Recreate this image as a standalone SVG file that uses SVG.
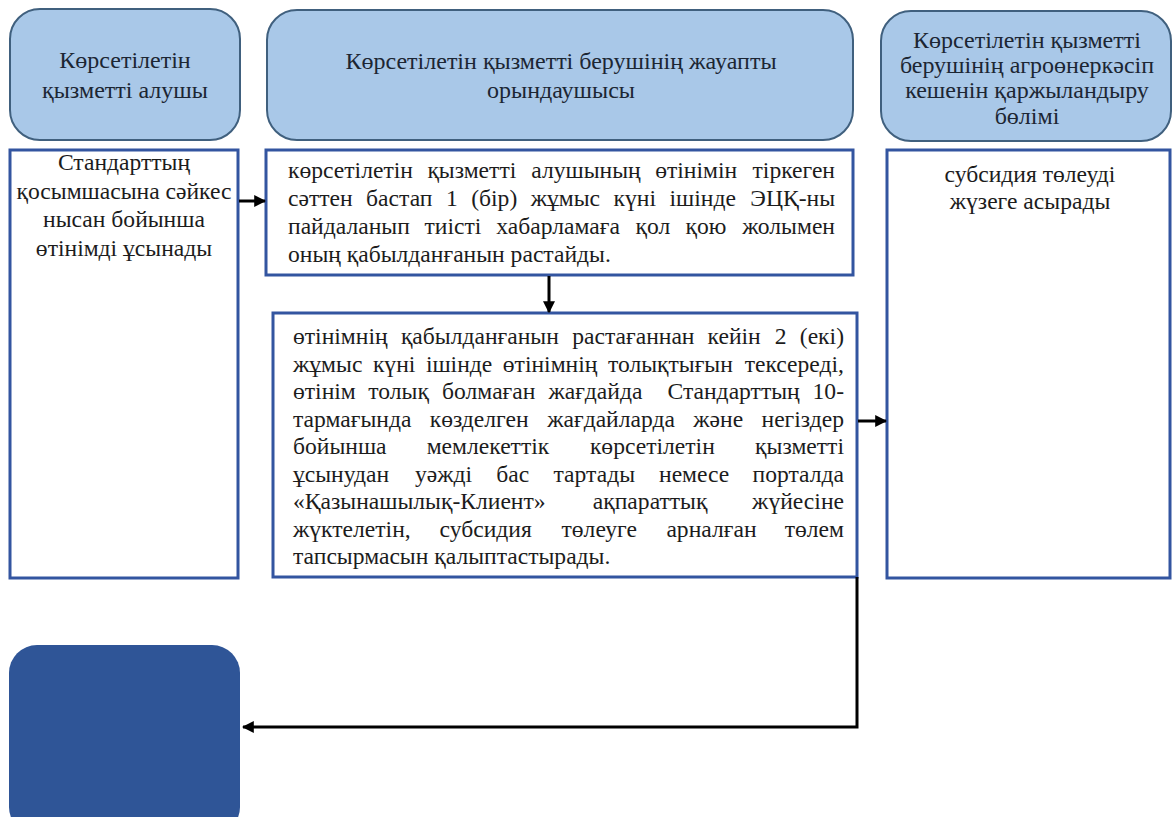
<svg xmlns="http://www.w3.org/2000/svg" width="1173" height="817" viewBox="0 0 1173 817">
<style>
.hdr{fill:#a9c8e8;stroke:#40607e;stroke-width:2}
.box{fill:#fff;stroke:#3355a0;stroke-width:3}
.t{font-family:"Liberation Serif","Times New Roman",serif;font-size:23.6px;fill:#1c1c1c}
.h{font-family:"Liberation Serif","Times New Roman",serif;font-size:24px;fill:#1c2633;text-anchor:middle}
.c{text-anchor:middle}
.e{text-anchor:end}
.ln{fill:none;stroke:#000;stroke-width:3}
</style>
<defs>
<marker id="ah" viewBox="0 0 10 10" refX="9" refY="5" markerWidth="4" markerHeight="4" orient="auto" markerUnits="strokeWidth">
<path d="M0,0 L10,5 L0,10 z" fill="#000"/>
</marker>
</defs>
<g id="lane1-header">
<rect class="hdr" x="10" y="9" width="230" height="131" rx="30"/>
<text class="h" x="125" y="68">Көрсетілетін</text>
<text class="h" x="125" y="98">қызметті алушы</text>
</g>
<g id="lane2-header">
<rect class="hdr" x="267" y="10" width="586" height="130" rx="30"/>
<text class="h" x="561" y="69">Көрсетілетін қызметті берушінің жауапты</text>
<text class="h" x="561" y="98">орындаушысы</text>
</g>
<g id="lane3-header">
<rect class="hdr" x="881" y="11" width="290" height="130" rx="30"/>
<text class="h" x="1027" y="47.5">Көрсетілетін қызметті</text>
<text class="h" x="1027" y="72.5">берушінің агроөнеркәсіп</text>
<text class="h" x="1027" y="98">кешенін қаржыландыру</text>
<text class="h" x="1027" y="124">бөлімі</text>
</g>
<g id="step1">
<rect class="box" x="10" y="150" width="228" height="428"/>
<text class="t c" x="124" y="170">Стандарттың</text>
<text class="t c" x="124" y="198.5">қосымшасына сәйкес</text>
<text class="t c" x="124" y="227">нысан бойынша</text>
<text class="t c" x="124" y="255.5">өтінімді ұсынады</text>
</g>
<g id="step2">
<rect class="box" x="266" y="150" width="587" height="125"/>
<text class="t" y="178"><tspan x="288">көрсетілетін</tspan><tspan x="427.4">қызметті</tspan><tspan x="531.3">алушының</tspan><tspan x="655.2">өтінімін</tspan><tspan x="835" class="e">тіркеген</tspan></text>
<text class="t" y="206"><tspan x="288">сәттен</tspan><tspan x="366.1">бастап</tspan><tspan x="446">1</tspan><tspan x="471.2">(бір)</tspan><tspan x="530.7">жұмыс</tspan><tspan x="613.5">күні</tspan><tspan x="669.5">ішінде</tspan><tspan x="835" class="e">ЭЦҚ-ны</tspan></text>
<text class="t" y="234"><tspan x="288">пайдаланып</tspan><tspan x="424.5">тиісті</tspan><tspan x="496.3">хабарламаға</tspan><tspan x="635.6">қол</tspan><tspan x="685.5">қою</tspan><tspan x="835" class="e">жолымен</tspan></text>
<text class="t" x="288" y="262">оның қабылданғанын растайды.</text>
</g>
<g id="step3">
<rect class="box" x="273" y="313" width="584" height="264"/>
<text class="t" y="344"><tspan x="293">өтінімнің</tspan><tspan x="400.9">қабылданғанын</tspan><tspan x="572.2">растағаннан</tspan><tspan x="707.6">кейін</tspan><tspan x="774.7">2</tspan><tspan x="844" class="e">(екі)</tspan></text>
<text class="t" y="371.5"><tspan x="293">жұмыс</tspan><tspan x="372.9">күні</tspan><tspan x="425.9">ішінде</tspan><tspan x="502.8">өтінімнің</tspan><tspan x="607.9">толықтығын</tspan><tspan x="844" class="e">тексереді,</tspan></text>
<text class="t" y="399"><tspan x="293">өтінім</tspan><tspan x="368.3">толық</tspan><tspan x="442.1">болмаған</tspan><tspan x="548.4">жағдайда</tspan><tspan x="667.5">Стандарттың</tspan><tspan x="844" class="e">10-</tspan></text>
<text class="t" y="426.5"><tspan x="293">тармағында</tspan><tspan x="429.7">көзделген</tspan><tspan x="547.2">жағдайларда</tspan><tspan x="693.3">және</tspan><tspan x="844" class="e">негіздер</tspan></text>
<text class="t" y="454"><tspan x="293">бойынша</tspan><tspan x="426.7">мемлекеттік</tspan><tspan x="589.9">көрсетілетін</tspan><tspan x="844" class="e">қызметті</tspan></text>
<text class="t" y="481.5"><tspan x="293">ұсынудан</tspan><tspan x="414.9">уәжді</tspan><tspan x="496.3">бас</tspan><tspan x="553.5">тартады</tspan><tspan x="659">немесе</tspan><tspan x="844" class="e">порталда</tspan></text>
<text class="t" y="509"><tspan x="293">«Қазынашылық-Клиент»</tspan><tspan x="592.8">ақпараттық</tspan><tspan x="844" class="e">жүйесіне</tspan></text>
<text class="t" y="536.5"><tspan x="293">жүктелетін,</tspan><tspan x="439.6">субсидия</tspan><tspan x="561.5">төлеуге</tspan><tspan x="666.4">арналған</tspan><tspan x="844" class="e">төлем</tspan></text>
<text class="t" x="293" y="564">тапсырмасын қалыптастырады.</text>
</g>
<g id="step4">
<rect class="box" x="887" y="150" width="283" height="428"/>
<text class="t c" x="1030" y="182">субсидия төлеуді</text>
<text class="t c" x="1030" y="208.5">жүзеге асырады</text>
</g>
<g id="end">
<rect x="9" y="645" width="231" height="190" rx="28" fill="#2f5597"/>
</g>
<g id="connectors">
<line class="ln" x1="239" y1="201" x2="265" y2="201" marker-end="url(#ah)"/>
<line class="ln" x1="549" y1="276" x2="549" y2="312" marker-end="url(#ah)"/>
<line class="ln" x1="858" y1="421" x2="886" y2="421" marker-end="url(#ah)"/>
<polyline class="ln" points="857,577 857,727 243,727" marker-end="url(#ah)"/>
</g>
</svg>
